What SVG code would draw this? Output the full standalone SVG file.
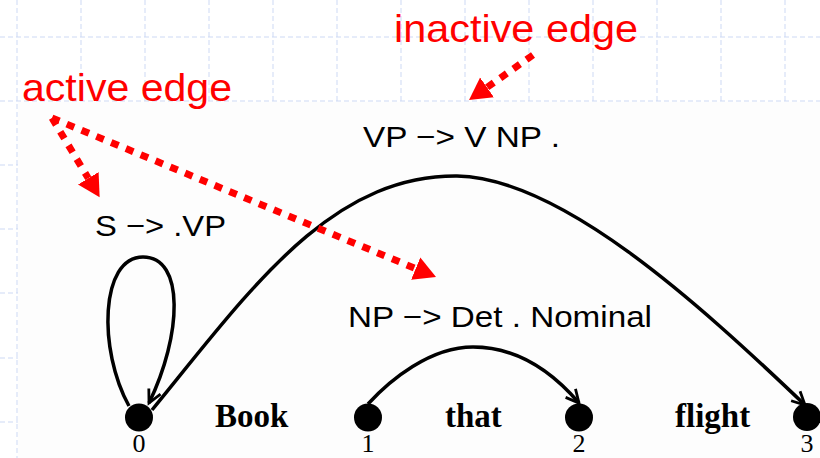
<svg xmlns="http://www.w3.org/2000/svg" width="820" height="458" viewBox="0 0 820 458">
<defs>
<style>
.grid{stroke:#cdd9f4;stroke-width:1;stroke-dasharray:5 3;fill:none}
.rule{font-family:"Liberation Sans",Arial,sans-serif;font-size:30px;fill:#000}
.note{font-family:"Liberation Sans",Arial,sans-serif;font-size:39px;fill:#ff0000}
.word{font-family:"Liberation Serif","Times New Roman",serif;font-weight:bold;font-size:33px;fill:#000}
.num{font-family:"Liberation Serif","Times New Roman",serif;font-size:26px;text-anchor:middle;fill:#000}
.edge{fill:none;stroke:#000;stroke-width:3.5}
.pointer{fill:none;stroke:#ff0000;stroke-width:7;stroke-dasharray:8 8}
.dot{fill:#000}
</style>
<marker id="open" markerUnits="userSpaceOnUse" viewBox="-16 -10 20 20" markerWidth="20" markerHeight="20" refX="0" refY="0" orient="auto">
<path d="M-13,-6.5 L0,0 L-13,6.5" fill="none" stroke="#000" stroke-width="2.8"/>
</marker>
<marker id="head" markerUnits="userSpaceOnUse" viewBox="0 -13 24 26" markerWidth="24" markerHeight="26" refX="0" refY="0" orient="auto">
<path d="M0,-12 L22,0 L0,12 Z" fill="#ff0000"/>
</marker>
</defs>
<rect width="820" height="458" fill="#ffffff"/>
<g id="grid">
<path class="grid" d="M17,0V458 M81,0V458 M145,0V458 M209,0V458 M273,0V458 M337,0V458 M401,0V458 M465,0V458 M529,0V458 M593,0V458 M657,0V458 M721,0V458 M785,0V458"/>
<path class="grid" d="M0,37H820 M0,101H820 M0,165H820 M0,229H820 M0,293H820 M0,358H820 M0,422H820"/>
</g>
<rect x="18" y="102" width="802" height="356" fill="#fdfdfd"/>
<g id="connectors">
<path class="edge" marker-end="url(#open)" d="M129,406 C98,350 100,257 143,257 C185,257 182,335 149,403"/>
<path class="edge" marker-end="url(#open)" d="M152,410 C250,290 330,175 457,176 C560,178 695,300 805,405"/>
<path class="edge" marker-end="url(#open)" d="M368,404 C390,380 430,347 473,347 C520,347 555,375 579,403"/>
</g>
<g id="rules">
<text class="rule" x="363" y="147" textLength="197" lengthAdjust="spacingAndGlyphs">VP −&gt; V NP .</text>
<text class="rule" x="95" y="236" textLength="131" lengthAdjust="spacingAndGlyphs">S −&gt; .VP</text>
<text class="rule" x="348" y="327" textLength="304" lengthAdjust="spacingAndGlyphs">NP −&gt; Det . Nominal</text>
</g>
<g id="n0"><circle class="dot" cx="139" cy="417.5" r="14"/><text class="num" x="139" y="452">0</text></g>
<g id="n1"><circle class="dot" cx="368" cy="417.5" r="14"/><text class="num" x="368" y="452">1</text></g>
<g id="n2"><circle class="dot" cx="579" cy="417.5" r="14"/><text class="num" x="579" y="452">2</text></g>
<g id="n3"><circle class="dot" cx="807" cy="417" r="14"/><text class="num" x="807" y="452">3</text></g>
<g id="words">
<text class="word" x="215" y="427">Book</text>
<text class="word" x="445" y="427">that</text>
<text class="word" x="675" y="427">flight</text>
</g>
<g id="annotations">
<text class="note" x="22" y="101" textLength="210" lengthAdjust="spacingAndGlyphs">active edge</text>
<text class="note" x="394" y="42" textLength="244" lengthAdjust="spacingAndGlyphs">inactive edge</text>
<path class="pointer" marker-end="url(#head)" d="M52,118 L88.3,178.3"/>
<path class="pointer" marker-end="url(#head)" d="M52,118 L415.7,268.6"/>
<path class="pointer" marker-end="url(#head)" d="M533,55 L487,87.4"/>
</g>
</svg>
